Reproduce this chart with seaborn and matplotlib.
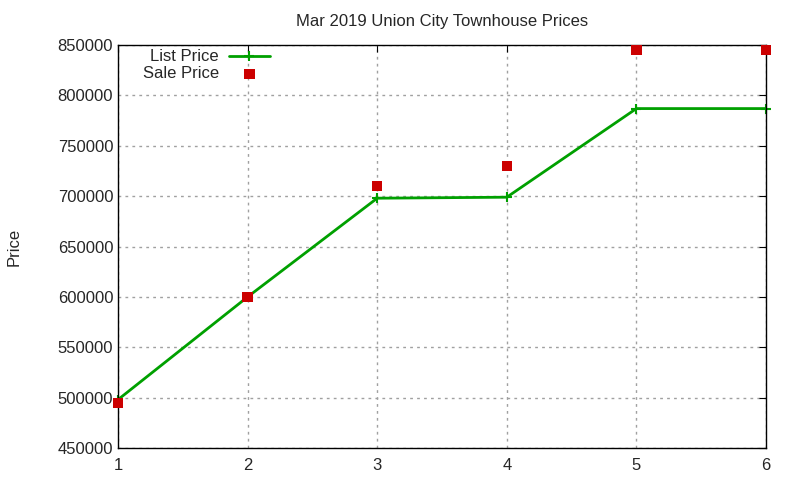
import seaborn as sns
import matplotlib.pyplot as plt
import pandas as pd

sales = [1, 2, 3, 4, 5, 6]
list_price = [498000, 600000, 698000, 699000, 787000, 787000]
sale_price = [494500, 600000, 710000, 730000, 845000, 845000]

df = pd.DataFrame({"Sale": sales, "List Price": list_price, "Sale Price": sale_price})

sns.set_style("white")
plt.rcParams["font.family"] = ["Liberation Sans", "DejaVu Sans"]

fig = plt.figure(figsize=(8, 4.8), dpi=100)
ax = fig.add_axes([0.1475, 0.0667, 0.81, 0.8393])

green = "#00a000"
sns.lineplot(data=df, x="Sale", y="List Price", ax=ax, color=green, lw=2,
             marker="+", markersize=7, markeredgewidth=1.5, markeredgecolor=green,
             label="List Price", clip_on=False, zorder=2)
sns.scatterplot(data=df, x="Sale", y="Sale Price", ax=ax, color="#cc0000", marker="s",
                s=55, edgecolor="none", label="Sale Price", zorder=3, clip_on=False)

ax.set_xlim(1, 6)
ax.set_ylim(450000, 850000)
ax.set_xticks(sales)
ax.set_yticks(range(450000, 850001, 50000))
ax.grid(True, color="#a0a0a0", linestyle=(0, (2, 3)), lw=1)
ax.tick_params(direction="in", top=True, right=True, labelsize=12, length=5, color="black")
ax.tick_params(axis="x", pad=7)
for s in ax.spines.values():
    s.set_color("black")
    s.set_linewidth(1)
ax.set_title("Mar 2019 Union City Townhouse Prices", fontsize=12, pad=14)
ax.set_xlabel("")
ax.set_ylabel("Price", fontsize=12, labelpad=26)

leg = ax.legend(loc="upper left", markerfirst=False, frameon=False, fontsize=12,
                borderaxespad=0.1, handlelength=2.5, handletextpad=0.6,
                labelspacing=0.1, bbox_to_anchor=(0.025, 1.01))
for t in leg.get_texts():
    t.set_ha("right")

fig.savefig("out.png", dpi=100)
